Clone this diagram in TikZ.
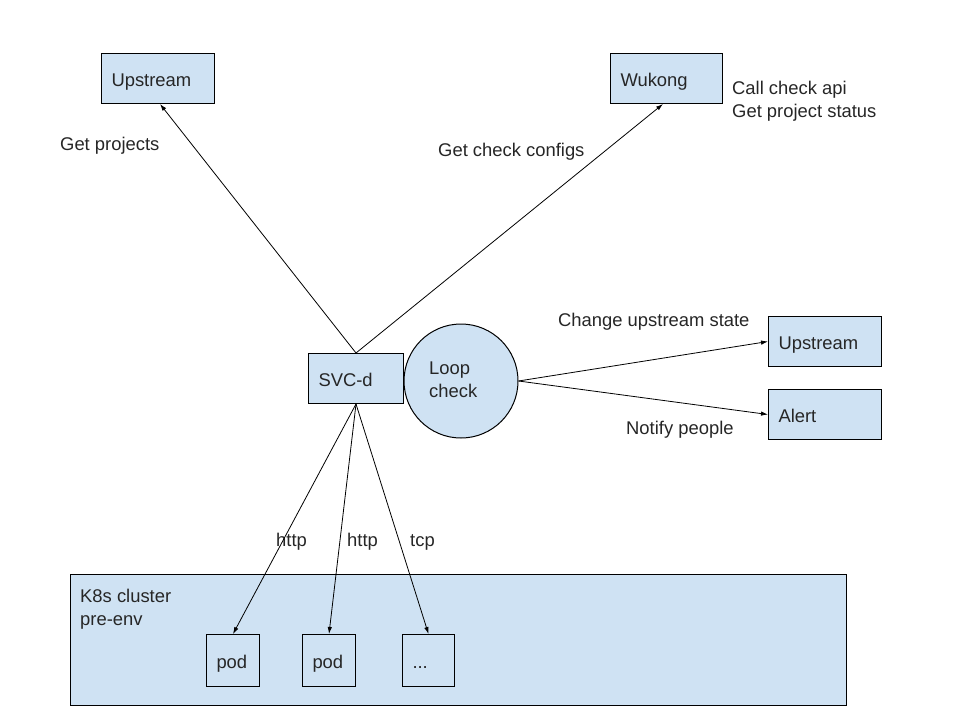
\documentclass[tikz,border=0pt]{standalone}
\usepackage{fontspec}
\setmainfont{Liberation Sans}
\usetikzlibrary{arrows.meta}
\definecolor{boxblue}{HTML}{CFE2F3}
\begin{document}
\begin{tikzpicture}[x=1pt,y=-1pt,
  every node/.style={font=\fontsize{18.4}{22.5}\selectfont, text=black!85},
  box/.style={draw=black, line width=1pt, fill=boxblue, anchor=north west, inner xsep=10pt, inner ysep=0pt, align=left, minimum height=50pt, text height=15pt, text depth=0pt},
  lbl/.style={anchor=west, inner sep=0pt, align=left, yshift=-2pt},
  conn/.style={line width=0.8pt, -{Latex[length=7pt,width=4.5pt]}}]
\useasboundingbox (0,0) rectangle (960,720);
% top boxes
\node[box, text width=93pt] (up1) at (101,53) {Upstream};
\node[box, text width=92pt] (wk) at (610,53) {Wukong};
\node[lbl] (call) at (732,99) {Call check api\\Get project status};
\node[lbl] (gp) at (60,144) {Get projects};
\node[lbl] (gc) at (438,150) {Get check configs};
% middle
\node[box, text width=75pt] (svc) at (308,353) {SVC-d};
\node[draw=black, line width=1pt, fill=boxblue, circle, minimum size=114pt, inner sep=0pt] (loop) at (461,381) {};
\node[lbl] (loopt) at (429,378) {Loop\\check};
\node[box, text width=93pt] (up2) at (768,316) {Upstream};
\node[box, text width=93pt] (al) at (768,389) {Alert};
\node[lbl] (cus) at (558,320) {Change upstream state};
\node[lbl] (np) at (626,428) {Notify people};
% cluster
\node[draw=black, line width=1pt, fill=boxblue, anchor=north west, minimum width=776pt, minimum height=131pt, inner sep=0pt] (k8s) at (70,574) {};
\node[anchor=north west, inner sep=0pt, align=left] (k8st) at (80,589) {K8s cluster\\pre-env};
\node[box, text width=33pt, minimum height=52pt] (pod1) at (206,634) {pod};
\node[box, text width=33pt, minimum height=52pt] (pod2) at (302,634) {pod};
\node[box, text width=32pt, minimum height=52pt] (pod3) at (402,634) {...};
\node[lbl] (h1) at (276,540) {http};
\node[lbl] (h2) at (347,540) {http};
\node[lbl] (t1) at (410,540) {tcp};
% connectors
\draw[conn] (svc.north) -- (up1.south -| 160,0);
\draw[conn] (svc.north) -- (663,104);
\draw[conn] (svc.south) -- (pod1.north);
\draw[conn] (svc.south) -- (pod2.north);
\draw[conn] (svc.south) -- (pod3.north);
\draw[conn] (loop.east) -- (up2.west);
\draw[conn] (loop.east) -- (al.west);
\end{tikzpicture}
\end{document}
